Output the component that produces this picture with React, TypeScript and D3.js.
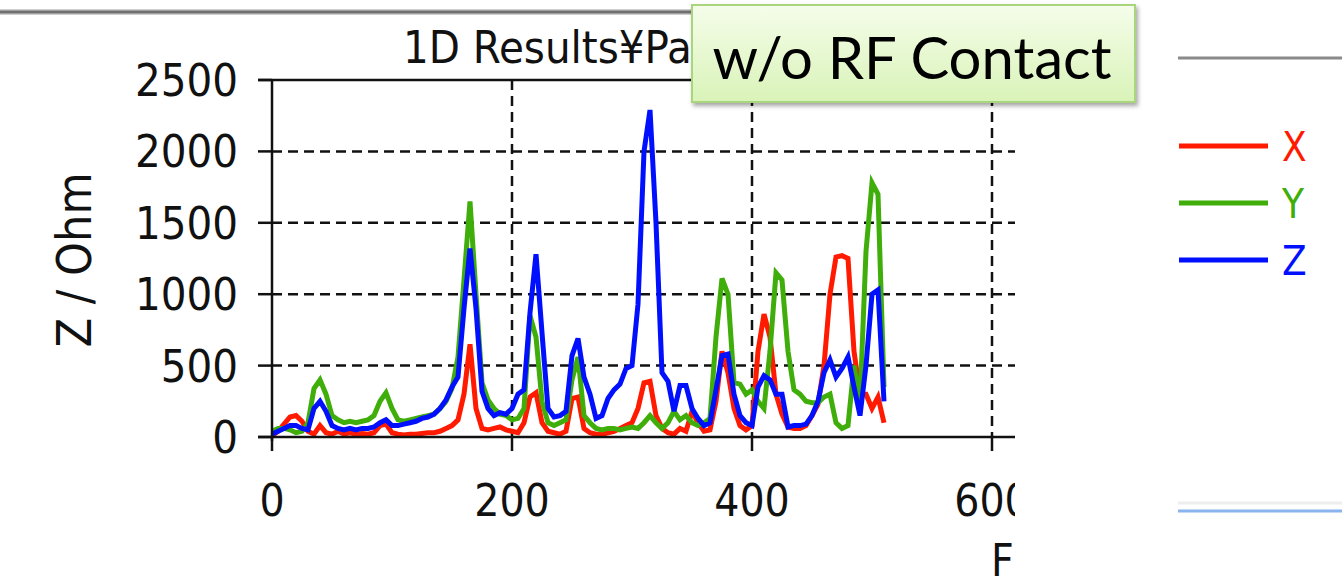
import React from "react";
import * as d3 from "d3";

// ---- data ----
const freq = [
  0, 5, 10, 15, 20, 25, 30, 35, 40, 45, 50, 55, 60, 65, 70, 75, 80, 85, 90, 95,
  100, 105, 110, 115, 120, 125, 130, 135, 140, 145, 150, 155, 160, 165, 170, 175, 180, 185, 190, 195,
  200, 205, 210, 215, 220, 225, 230, 235, 240, 245, 250, 255, 260, 265, 270, 275, 280, 285, 290, 295,
  300, 305, 310, 315, 320, 325, 330, 335, 340, 345, 350, 355, 360, 365, 370, 375, 380, 385, 390, 395,
  400, 405, 410, 415, 420, 425, 430, 435, 440, 445, 450, 455, 460, 465, 470, 475, 480, 485, 490, 495,
  500, 505, 510,
];

const seriesX = [
  10, 40, 90, 140, 150, 110, 40, 20, 80, 30,
  20, 40, 20, 30, 20, 25, 20, 30, 80, 90,
  30, 20, 15, 20, 20, 25, 30, 30, 40, 60,
  80, 120, 300, 650, 200, 60, 50, 60, 70, 50,
  40, 30, 100, 280, 310, 100, 40, 30, 20, 40,
  270, 280, 60, 30, 20, 20, 30, 40, 60, 80,
  100, 200, 380, 390, 150, 60, 30, 20, 60, 40,
  180, 100, 40, 50, 250, 600, 450, 200, 80, 50,
  80, 600, 860, 700, 300, 160, 70, 60, 60, 80,
  150, 230, 500, 1000, 1260, 1270, 1250, 600, 300, 300,
  200, 280, 100,
];

const seriesY = [
  40, 60, 60, 50, 30, 40, 100, 340, 400, 300,
  150, 120, 100, 110, 100, 110, 120, 150, 250, 310,
  200, 120, 110, 120, 130, 140, 150, 160, 200, 250,
  340, 560, 1100, 1650, 1000, 380, 260, 200, 160, 150,
  120, 130, 200, 850, 700, 250, 100, 80, 100, 120,
  400, 560, 150, 100, 60, 50, 60, 60, 50, 60,
  70, 60, 100, 150, 100, 60, 100, 180, 120, 150,
  100, 80, 100, 130, 700, 1110, 1000, 380, 370, 300,
  330, 250, 200, 600, 1150, 1100, 600, 330, 300, 250,
  240, 240, 280, 300, 100, 60, 80, 500, 250, 1300,
  1780, 1700, 350,
];

const seriesZ = [
  20, 40, 60, 80, 80, 60, 50, 200, 250, 180,
  80, 60, 50, 60, 50, 60, 60, 70, 100, 120,
  80, 80, 90, 100, 110, 130, 140, 160, 200, 260,
  350, 420, 900, 1320, 900, 320, 200, 150, 170, 160,
  200, 300, 330, 870, 1280, 730, 200, 140, 150, 180,
  570, 690, 420, 300, 130, 150, 270, 330, 370, 480,
  500, 930, 2000, 2290, 1500, 450, 390, 180, 360, 360,
  200, 130, 80, 100, 330, 570, 580, 300, 150, 100,
  80, 350, 430, 400, 300, 300, 70, 80, 80, 90,
  150, 250, 450, 540, 420, 480, 560, 350, 150, 500,
  1000, 1030, 250,
];

const xTicks = [0, 200, 400, 600];
const yTicks = [0, 500, 1000, 1500, 2000, 2500];
const seriesNames = ["X", "Y", "Z"];
const seriesColors = ["#ff1a00", "#3fae0a", "#0010ff"];

export default function App() {
  const W = 1342;
  const H = 582;
  const x = d3.scaleLinear().domain([0, 600]).range([272, 992]);
  const y = d3.scaleLinear().domain([0, 2500]).range([437, 80]);
  const all = [seriesX, seriesY, seriesZ];
  const line = d3
    .line<number>()
    .x((_, i) => x(freq[i]))
    .y((d) => y(d));

  const tickFont = "'DejaVu Sans Condensed', 'DejaVu Sans', sans-serif";
  const clipRight = 1015;

  return (
    <svg
      width={W}
      height={H}
      style={{ position: "absolute", left: 0, top: 0, background: "#fff" }}
    >
      <defs>
        <clipPath id="chartClip">
          <rect x={0} y={0} width={clipRight} height={H} />
        </clipPath>
        <linearGradient id="calloutGrad" x1="0" y1="0" x2="0" y2="1">
          <stop offset="0" stopColor="#f5fdea" />
          <stop offset="1" stopColor="#d9f3b8" />
        </linearGradient>
        <filter id="shadow" x="-5%" y="-10%" width="115%" height="140%">
          <feDropShadow dx="2" dy="3" stdDeviation="2" floodColor="#000" floodOpacity="0.35" />
        </filter>
      </defs>

      {/* top window border */}
      <line x1={0} x2={692} y1={12} y2={12} stroke="#a0a0a0" strokeWidth={5} />
      <line x1={0} x2={692} y1={12} y2={12} stroke="#707070" strokeWidth={2} />

      <g clipPath="url(#chartClip)">
        {/* title */}
        <text x={403} y={63} fontFamily={tickFont} fontStretch="condensed" fontSize={45} fill="#111">
          1D Results¥Pa
        </text>

        {/* grid */}
        {yTicks
          .filter((t) => t > 0 && t < 2500)
          .map((t) => (
            <line
              key={"gy" + t}
              x1={x(0)}
              x2={clipRight}
              y1={y(t)}
              y2={y(t)}
              stroke="#111"
              strokeWidth={2.5}
              strokeDasharray="10,6"
            />
          ))}
        {xTicks
          .filter((t) => t > 0)
          .map((t) => (
            <line
              key={"gx" + t}
              x1={x(t)}
              x2={x(t)}
              y1={y(2500)}
              y2={y(0)}
              stroke="#111"
              strokeWidth={2.5}
              strokeDasharray="10,6"
            />
          ))}

        {/* series */}
        {all.map((s, k) => (
          <path
            key={"s" + k}
            d={line(s) || ""}
            fill="none"
            stroke={seriesColors[k]}
            strokeWidth={5}
            strokeLinejoin="miter"
          />
        ))}

        {/* axes */}
        <line x1={x(0)} x2={x(0)} y1={y(2500)} y2={y(0) + 4} stroke="#111" strokeWidth={2.5} />
        <line x1={258} x2={clipRight} y1={y(0)} y2={y(0)} stroke="#111" strokeWidth={2.5} />
        <line x1={258} x2={clipRight} y1={y(2500)} y2={y(2500)} stroke="#111" strokeWidth={2.5} />
        {yTicks.map((t) => (
          <g key={"yt" + t}>
            <line x1={258} x2={x(0)} y1={y(t)} y2={y(t)} stroke="#111" strokeWidth={2.5} />
            <text
              x={238}
              y={y(t) + 16}
              textAnchor="end"
              fontFamily={tickFont}
              fontStretch="condensed"
              fontSize={45}
              fill="#111"
            >
              {t}
            </text>
          </g>
        ))}
        {xTicks.map((t) => (
          <g key={"xt" + t}>
            <line x1={x(t)} x2={x(t)} y1={y(0)} y2={y(0) + 14} stroke="#111" strokeWidth={2.5} />
            <text
              x={x(t)}
              y={516}
              textAnchor="middle"
              fontFamily={tickFont}
              fontStretch="condensed"
              fontSize={44}
              fill="#111"
            >
              {t}
            </text>
          </g>
        ))}
        <text
          transform={`translate(91,${260}) rotate(-90)`}
          textAnchor="middle"
          fontFamily={tickFont}
          fontStretch="condensed"
          fontSize={48}
          fill="#111"
        >
          Z / Ohm
        </text>
      </g>
      <text x={991} y={576} fontFamily={tickFont} fontStretch="condensed" fontSize={44} fill="#111">
        F
      </text>

      {/* callout */}
      <rect
        x={692}
        y={5}
        width={443}
        height={97}
        fill="url(#calloutGrad)"
        stroke="#a9d67c"
        strokeWidth={2}
        filter="url(#shadow)"
      />
      <text x={912} y={79} textAnchor="middle" fontFamily="Lato, 'Open Sans', sans-serif" fontSize={58} fill="#000">
        w/o RF Contact
      </text>

      {/* right panel pieces */}
      <line x1={1178} x2={1342} y1={58} y2={58} stroke="#8a8a8a" strokeWidth={3} />
      {seriesNames.map((n, k) => (
        <g key={"lg" + n}>
          <line
            x1={1179}
            x2={1268}
            y1={146 + k * 57}
            y2={146 + k * 57}
            stroke={seriesColors[k]}
            strokeWidth={5}
          />
          <text
            x={1282}
            y={146 + k * 57 + 15}
            fontFamily={tickFont}
            fontStretch="condensed"
            fontSize={40}
            fill={seriesColors[k]}
          >
            {n}
          </text>
        </g>
      ))}
      <line x1={1178} x2={1342} y1={503} y2={503} stroke="#eeeeee" strokeWidth={3} />
      <line x1={1178} x2={1342} y1={511} y2={511} stroke="#8ab4ee" strokeWidth={3} />
    </svg>
  );
}
